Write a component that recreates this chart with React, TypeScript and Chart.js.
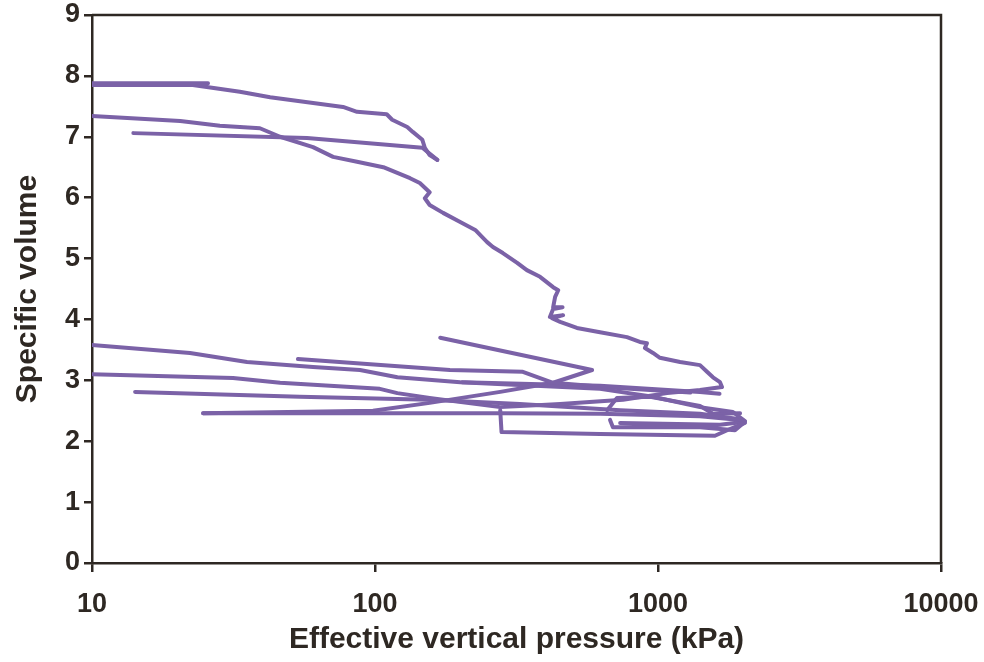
import React, { useEffect, useRef } from 'react';
import { Chart, registerables } from 'chart.js';

Chart.register(...registerables);

const LINE_COLOR = '#7B62A7';
const AXIS_COLOR = '#2E2823';
const FONT = "'Liberation Sans', Arial, sans-serif";

const xTickValues = [10, 100, 1000, 10000];
const xTitle = 'Effective vertical pressure (kPa)';
const yTitle = 'Specific volume';

// Segment 1: first loading (top)
const firstLoadP = [25.7, 10, 10, 22.7, 33.3, 42.6, 77.1, 86.4, 110, 115, 130, 136, 147, 150, 156, 166];
const firstLoadV = [7.88, 7.88, 7.85, 7.85, 7.74, 7.65, 7.49, 7.41, 7.37, 7.28, 7.16, 7.08, 6.95, 6.82, 6.70, 6.62];

// Segment 2: first unloading
const firstUnloadP = [166, 147, 57.5, 14.0];
const firstUnloadV = [6.62, 6.82, 6.98, 7.06];

// Segment 3: main compression curve and return
const mainP = [10, 20.5, 28.3, 39.2, 46.2, 60.4, 71.1, 86.4, 107, 133, 144, 156, 150, 156, 174, 200, 226, 249, 261, 283, 318, 344, 383, 426, 444, 433, 426, 460, 426, 415, 462, 422, 451, 517, 624, 777, 863, 914, 899, 960, 1016, 1197, 1407, 1490, 1564, 1656, 1683, 1407, 1077, 752, 451, 277, 156, 120, 104, 46.2, 31.5, 10];
const mainV = [7.34, 7.26, 7.18, 7.14, 7.00, 6.83, 6.67, 6.59, 6.50, 6.32, 6.24, 6.09, 5.99, 5.88, 5.75, 5.60, 5.47, 5.27, 5.19, 5.09, 4.93, 4.81, 4.70, 4.53, 4.48, 4.37, 4.20, 4.20, 4.17, 4.04, 4.07, 4.02, 3.96, 3.86, 3.79, 3.71, 3.63, 3.61, 3.53, 3.45, 3.37, 3.30, 3.25, 3.14, 3.05, 2.97, 2.89, 2.84, 2.79, 2.68, 2.61, 2.56, 2.71, 2.79, 2.86, 2.96, 3.04, 3.10];

// Segment 4: cycle from 10 kPa at 3.58
const cycleAP = [10, 22.2, 35.3, 60.4, 88.5, 120, 200, 624, 960, 1407, 1840, 2029];
const cycleAV = [3.58, 3.45, 3.30, 3.22, 3.17, 3.05, 2.97, 2.86, 2.73, 2.56, 2.48, 2.33];

// Segment 5: cycle from 14 kPa
const cycleBP = [14.2, 54.3, 156, 325, 735, 1407, 1950];
const cycleBV = [2.81, 2.73, 2.68, 2.61, 2.51, 2.45, 2.36];

// Segment 6: reload from 25 kPa
const cycleCP = [24.7, 98.4, 277, 624, 1407, 1950];
const cycleCV = [2.46, 2.46, 2.46, 2.45, 2.41, 2.35];

// Segment 7: from 55 kPa
const cycleDP = [53.4, 184, 333, 426, 700, 1300];
const cycleDV = [3.35, 3.17, 3.14, 2.96, 2.88, 2.80];

// Segment 8: from 170 kPa
const cycleEP = [170, 585, 426, 277, 156, 98.4, 24.7];
const cycleEV = [3.70, 3.17, 2.96, 2.81, 2.63, 2.50, 2.46];

// Segment 9: from 200 kPa
const cycleFP = [203, 624, 1407, 1650];
const cycleFV = [2.97, 2.91, 2.81, 2.78];

// Segment 10: bottom loop
const cycleGP = [277, 280, 624, 1589, 1796, 2029];
const cycleGV = [2.51, 2.15, 2.12, 2.09, 2.20, 2.30];

// Segment 11 & 12: right-hand small loops
const loopAP = [661, 716, 937, 1407, 1564, 1950];
const loopAV = [2.51, 2.71, 2.73, 2.58, 2.45, 2.46];
const loopBP = [677, 693, 1407, 1871, 2029, 1656, 735];
const loopBV = [2.35, 2.23, 2.23, 2.18, 2.32, 2.27, 2.30];

const segments: [number[], number[]][] = [
  [firstLoadP, firstLoadV],
  [firstUnloadP, firstUnloadV],
  [mainP, mainV],
  [cycleAP, cycleAV],
  [cycleBP, cycleBV],
  [cycleCP, cycleCV],
  [cycleDP, cycleDV],
  [cycleEP, cycleEV],
  [cycleFP, cycleFV],
  [cycleGP, cycleGV],
  [loopAP, loopAV],
  [loopBP, loopBV],
];

const boxPlugin = {
  id: 'boxPlugin',
  afterDatasetsDraw(chart: any) {
    const { ctx, chartArea } = chart;
    const { left, right, top, bottom } = chartArea;
    ctx.save();
    ctx.strokeStyle = AXIS_COLOR;
    ctx.lineWidth = 2.5;
    ctx.beginPath();
    ctx.moveTo(left, top);
    ctx.lineTo(right, top);
    ctx.lineTo(right, bottom);
    ctx.stroke();
    ctx.restore();
  },
};

export default function App() {
  const canvasRef = useRef<HTMLCanvasElement | null>(null);

  useEffect(() => {
    if (!canvasRef.current) return;
    const datasets = segments.map(([p, v], i) => ({
      label: 'seg' + i,
      data: p.map((x, k) => ({ x, y: v[k] })),
      showLine: true,
      borderColor: LINE_COLOR,
      backgroundColor: LINE_COLOR,
      borderWidth: 4,
      pointRadius: 0,
      pointHoverRadius: 0,
      tension: 0,
      fill: false,
      borderJoinStyle: 'round' as const,
      borderCapStyle: 'round' as const,
    }));

    const chart = new Chart(canvasRef.current, {
      type: 'scatter',
      data: { datasets },
      plugins: [boxPlugin],
      options: {
        animation: false,
        responsive: false,
        maintainAspectRatio: false,
        layout: { padding: { top: 15, right: 43, left: 0, bottom: 0 } },
        plugins: { legend: { display: false }, tooltip: { enabled: false } },
        scales: {
          x: {
            type: 'logarithmic',
            min: 10,
            max: 10000,
            afterBuildTicks: (axis: any) => {
              axis.ticks = xTickValues.map((value) => ({ value }));
            },
            afterFit: (scale: any) => {
              scale.height = 99;
              scale.paddingLeft = 0;
              scale.paddingRight = 0;
            },
            ticks: {
              color: AXIS_COLOR,
              font: { family: FONT, size: 27, weight: 'bold' },
              padding: 16,
              autoSkip: false,
              maxRotation: 0,
              callback: (value: any) => String(value),
            },
            grid: {
              drawOnChartArea: false,
              drawTicks: true,
              tickLength: 9,
              color: AXIS_COLOR,
              lineWidth: 2.5,
            },
            border: { display: true, color: AXIS_COLOR, width: 2.5 },
            title: {
              display: true,
              text: xTitle,
              color: AXIS_COLOR,
              font: { family: FONT, size: 30, weight: 'bold' },
              padding: { top: 0, bottom: 4 },
            },
          },
          y: {
            min: 0,
            max: 9,
            afterFit: (scale: any) => {
              scale.width = 92;
              scale.paddingTop = 0;
              scale.paddingBottom = 0;
            },
            ticks: {
              stepSize: 1,
              color: AXIS_COLOR,
              font: { family: FONT, size: 27, weight: 'bold' },
              padding: 4,
            },
            grid: {
              drawOnChartArea: false,
              drawTicks: true,
              tickLength: 8,
              color: AXIS_COLOR,
              lineWidth: 2.5,
            },
            border: { display: true, color: AXIS_COLOR, width: 2.5 },
            title: {
              display: true,
              text: yTitle,
              color: AXIS_COLOR,
              font: { family: FONT, size: 30, weight: 'bold' },
              padding: { top: 10, bottom: 0 },
            },
          },
        },
      },
    });
    return () => chart.destroy();
  }, []);

  return (
    <div style={{ position: 'fixed', left: 0, top: 0, width: 984, height: 662, background: '#fff' }}>
      <canvas ref={canvasRef} width={984} height={662} style={{ width: 984, height: 662 }} />
    </div>
  );
}
